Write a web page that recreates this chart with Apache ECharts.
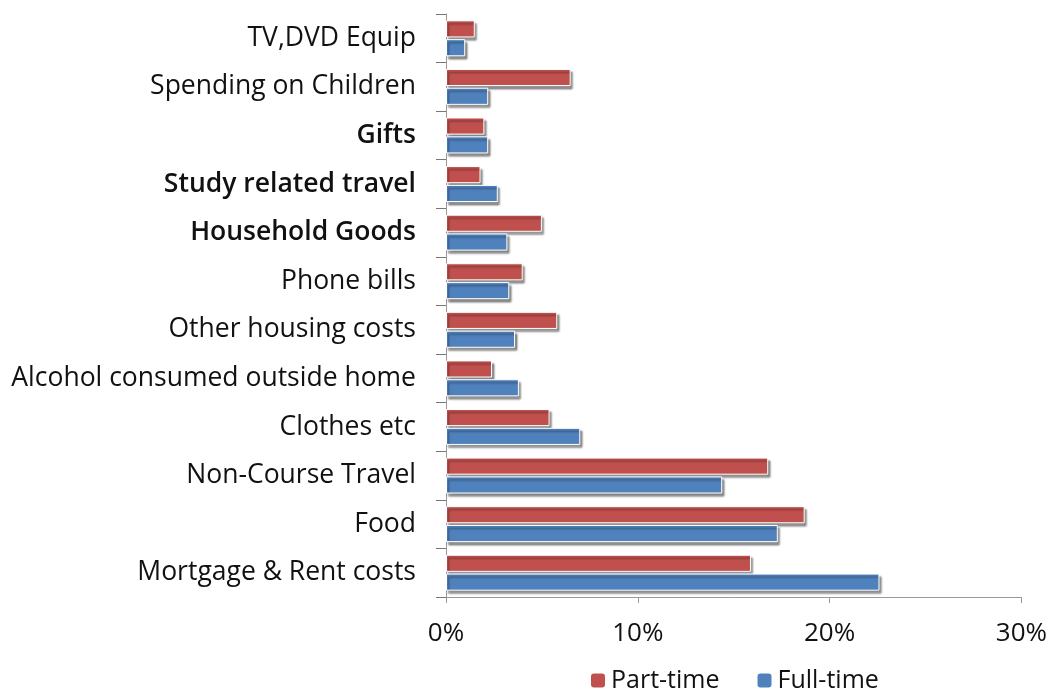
<!DOCTYPE html>
<html>
<head>
<meta charset="utf-8">
<script src="https://cdn.jsdelivr.net/npm/echarts@6/dist/echarts.min.js"></script>
<style>
html, body { margin: 0; padding: 0; background: #fff; }
#chart { width: 1050px; height: 693px; }
</style>
</head>
<body>
<div id="chart"></div>
<script>
// categories listed bottom to top
var categories = ['Mortgage & Rent costs', 'Food', 'Non-Course Travel', 'Clothes etc',
	'Alcohol consumed outside home', 'Other housing costs', 'Phone bills', 'Household Goods',
	'Study related travel', 'Gifts', 'Spending on Children', 'TV,DVD Equip'];
var boldLabels = ['Household Goods', 'Study related travel', 'Gifts'];
var partTime = [15.9, 18.7, 16.8, 5.4, 2.4, 5.8, 4.0, 5.0, 1.8, 2.0, 6.5, 1.5];
var fullTime = [22.6, 17.3, 14.4, 7.0, 3.8, 3.6, 3.3, 3.2, 2.7, 2.2, 2.2, 1.0];
var xTicks = [0, 10, 20, 30];

var chart = echarts.init(document.getElementById('chart'));
var font = '"Open Sans", sans-serif';

var yData = categories.map(function (c) {
	if (boldLabels.indexOf(c) >= 0) {
		return { value: c, textStyle: { fontWeight: 600 } };
	}
	return c;
});

function barStyle(color) {
	return {
		color: color,
		borderColor: '#fff',
		borderWidth: 1,
		shadowColor: 'rgba(0,0,0,0.45)',
		shadowOffsetX: 2,
		shadowOffsetY: 3,
		shadowBlur: 2
	};
}

var option = {
	animation: false,
	grid: {
		left: 446,
		right: 28,
		top: 14,
		bottom: 96
	},
	legend: {
		top: 668,
		left: 589,
		padding: 0,
		itemWidth: 16,
		itemHeight: 16,
		itemGap: 36,
		textStyle: { fontFamily: font, fontSize: 25, color: '#111' },
		data: ['Part-time', 'Full-time']
	},
	xAxis: {
		type: 'value',
		min: xTicks[0],
		max: xTicks[xTicks.length - 1],
		interval: 10,
		splitLine: { show: false },
		axisLine: { show: true, lineStyle: { color: '#999' } },
		axisTick: { show: true, length: 6, lineStyle: { color: '#999' } },
		axisLabel: {
			margin: 24,
			fontFamily: font,
			fontSize: 26,
			color: '#111',
			formatter: '{value}%'
		}
	},
	yAxis: {
		type: 'category',
		data: yData,
		axisLine: { lineStyle: { color: '#999' } },
		axisTick: { show: true, length: 10, lineStyle: { color: '#777' } },
		axisLabel: {
			margin: 30,
			fontFamily: font,
			fontSize: 26.5,
			color: '#111'
		}
	},
	series: [{
		name: 'Part-time',
		type: 'bar',
		data: partTime,
		barGap: '10%',
		barCategoryGap: '26%',
		itemStyle: barStyle('#C0504D')
	}, {
		name: 'Full-time',
		type: 'bar',
		data: fullTime,
		itemStyle: barStyle('#4F81BD')
	}]
};
chart.setOption(option);
</script>
</body>
</html>
